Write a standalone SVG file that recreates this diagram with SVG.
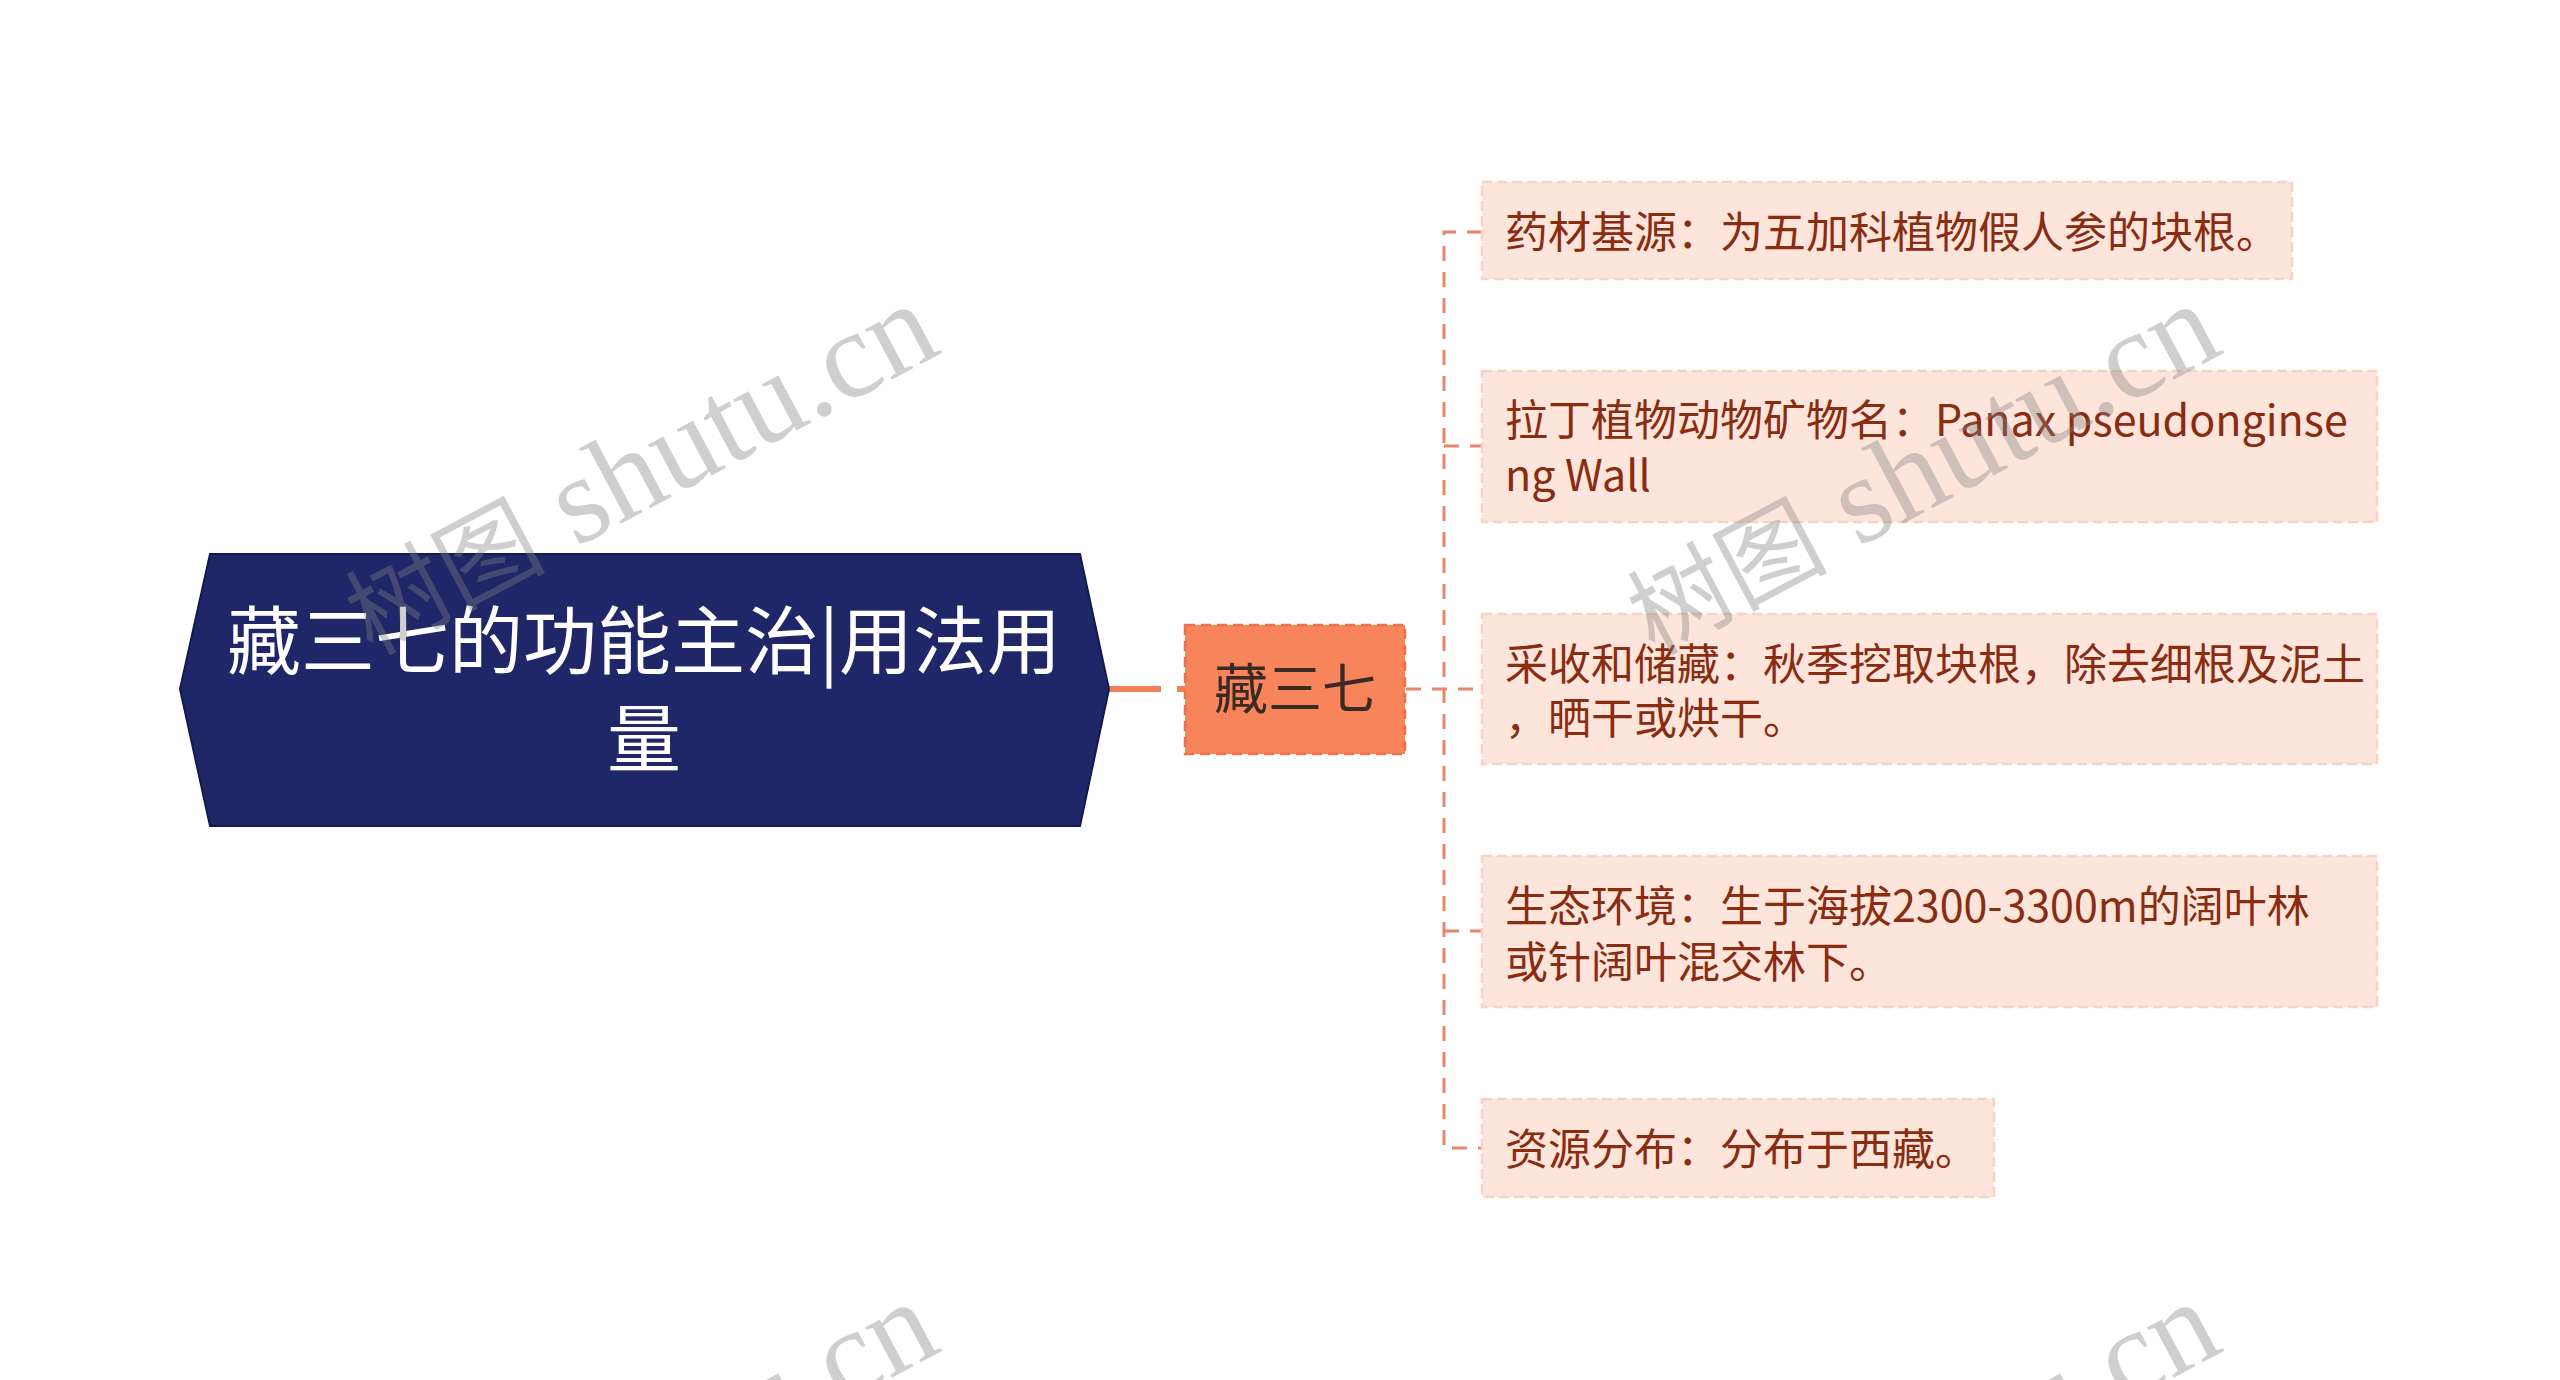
<svg xmlns="http://www.w3.org/2000/svg" width="2560" height="1380" viewBox="0 0 2560 1380">
<style>
.main-shape{fill:#202768;stroke:#141a4d;stroke-width:2}
.main-text{font-family:"Noto Sans CJK SC","Noto Sans",sans-serif;font-size:74px;fill:#ffffff;text-anchor:middle}
.center-shape{fill:#f7845a;stroke:#e8744a;stroke-width:2.5;stroke-dasharray:10 6}
.center-text{font-family:"Noto Sans CJK SC","Noto Sans",sans-serif;font-size:54px;fill:#3a2a24;text-anchor:middle}
.child-shape{fill:#fde5dc;stroke:#f7d3c4;stroke-width:2.5;stroke-dasharray:10 5}
.child-text{font-family:"Noto Sans CJK SC","Noto Sans",sans-serif;font-size:43px;fill:#8a2c10}
.conn{fill:none;stroke:#e8866a;stroke-width:3;stroke-dasharray:15 11}
.conn-main{fill:none;stroke:#f27f56;stroke-width:6;stroke-dasharray:54 16}
.wm{font-family:"Liberation Serif","Noto Sans CJK SC",serif;font-size:124px;fill:#808080;fill-opacity:0.38}
.wm-cjk{font-family:"Noto Sans CJK SC",sans-serif;font-size:100px}
</style>
<rect width="2560" height="1380" fill="#ffffff"/>
<g id="connectors">
<line class="conn-main" x1="1107" y1="689" x2="1185" y2="689"/>
<line class="conn" x1="1406" y1="689" x2="1482" y2="689"/>
<path class="conn" d="M1482 232 H1444 V1148 H1482"/>
<line class="conn" x1="1444" y1="446" x2="1482" y2="446"/>
<line class="conn" x1="1444" y1="931" x2="1482" y2="931"/>
</g>
<g id="node-main">
<polygon class="main-shape" points="180,689 210,554 1080,554 1109,689 1080,826 210,826"/>
<text class="main-text" x="644" y="668">藏三七的功能主治|用法用</text>
<text class="main-text" x="644" y="766">量</text>
</g>
<g id="node-center">
<rect class="center-shape" x="1185" y="625" width="220" height="129"/>
<text class="center-text" x="1295" y="709">藏三七</text>
</g>
<g id="node-1">
<rect class="child-shape" x="1482" y="182" width="810" height="97"/>
<text class="child-text" x="1505" y="248">药材基源：为五加科植物假人参的块根。</text>
</g>
<g id="node-2">
<rect class="child-shape" x="1482" y="371" width="895" height="151"/>
<text class="child-text" x="1505" y="436">拉丁植物动物矿物名：Panax pseudonginse</text>
<text class="child-text" x="1505" y="491">ng Wall</text>
</g>
<g id="node-3">
<rect class="child-shape" x="1482" y="614" width="895" height="150"/>
<text class="child-text" x="1505" y="680">采收和储藏：秋季挖取块根，除去细根及泥土</text>
<text class="child-text" x="1505" y="734">，晒干或烘干。</text>
</g>
<g id="node-4">
<rect class="child-shape" x="1482" y="856" width="895" height="151"/>
<text class="child-text" x="1505" y="922">生态环境：生于海拔2300-3300m的阔叶林</text>
<text class="child-text" x="1505" y="978">或针阔叶混交林下。</text>
</g>
<g id="node-5">
<rect class="child-shape" x="1482" y="1099" width="512" height="98"/>
<text class="child-text" x="1505" y="1165">资源分布：分布于西藏。</text>
</g>
<g id="watermarks">
<text class="wm" transform="translate(372 656) rotate(-28)"><tspan class="wm-cjk">树图</tspan> shutu.cn</text>
<text class="wm" transform="translate(1654 656) rotate(-28)"><tspan class="wm-cjk">树图</tspan> shutu.cn</text>
<text class="wm" transform="translate(372 1654) rotate(-28)"><tspan class="wm-cjk">树图</tspan> shutu.cn</text>
<text class="wm" transform="translate(1654 1654) rotate(-28)"><tspan class="wm-cjk">树图</tspan> shutu.cn</text>
</g>
</svg>
